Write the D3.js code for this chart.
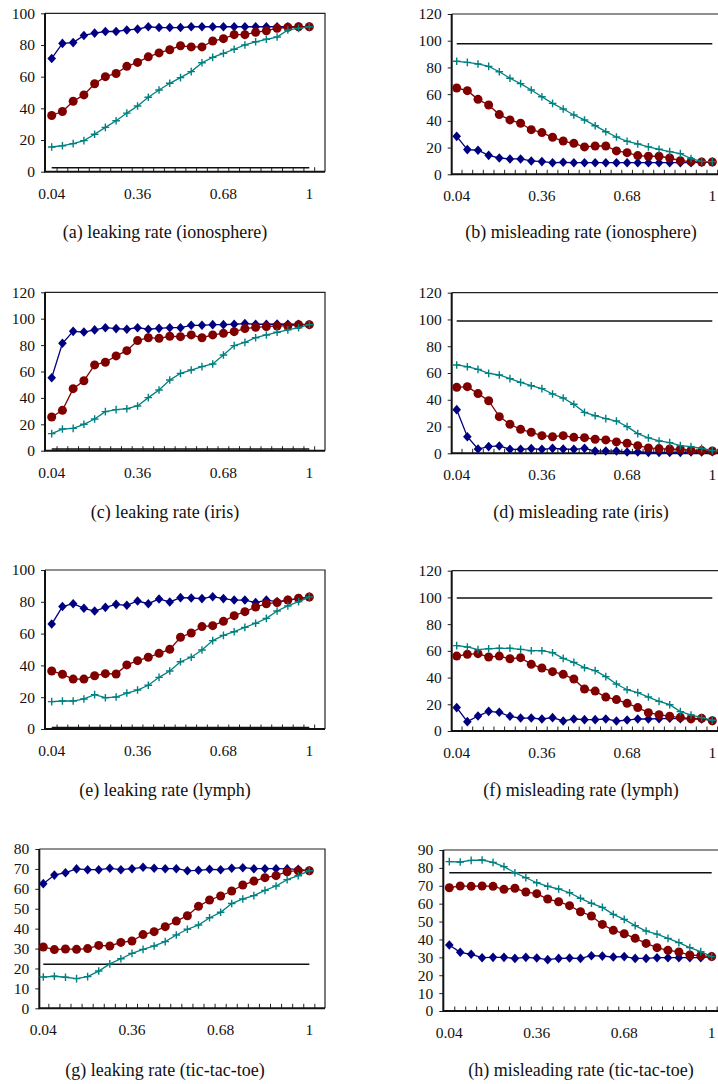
<!DOCTYPE html>
<html>
<head>
<meta charset="utf-8">
<script src="https://cdn.jsdelivr.net/npm/d3@7"></script>
<style>
  html, body { margin: 0; padding: 0; background: #fff; }
  svg { display: block; }
  text { font-family: "Liberation Serif", "Times New Roman", serif; fill: #111; }
</style>
</head>
<body>
<svg id="chart" width="718" height="1084"></svg>
<script>
// Sampling rates on the horizontal axis (25 categories)
const rates = [0.04, 0.08, 0.12, 0.16, 0.20, 0.24, 0.28, 0.32, 0.36, 0.40, 0.44, 0.48,
               0.52, 0.56, 0.60, 0.64, 0.68, 0.72, 0.76, 0.80, 0.84, 0.88, 0.92, 0.96, 1.00];
const xTickLabels = [0.04, 0.36, 0.68, 1];

// (a) leaking rate (ionosphere)
const aBlue  = [71.5, 81, 81.5, 86, 87.5, 88.5, 88.5, 89.5, 90, 91.5, 91, 91, 91, 91.5, 91.5, 91.5, 91.5, 91.5, 91.5, 91.5, 91.5, 91.5, 91.5, 91.5, 91.5];
const aRed   = [35.5, 38, 44.5, 48.5, 55.5, 60, 62, 66.5, 69, 72.5, 75, 77, 79.5, 78.8, 78.8, 82.5, 84, 86.5, 86.5, 88, 89, 90.5, 91.2, 91.5, 91.5];
const aTeal  = [15.6, 16.4, 17.7, 19.6, 23.6, 28, 32.2, 37, 41.5, 47, 51.6, 55.8, 59.4, 63.2, 68.8, 72.2, 74.7, 77.3, 80, 82, 83.6, 85, 89.5, 90.5, 91.5];
const aLine  = 2.5;

// (b) misleading rate (ionosphere)
const bBlue  = [28.4, 18.5, 18, 14.2, 12.2, 11.5, 11.5, 10, 9.5, 8.7, 9, 8.7, 8.7, 8.7, 8.7, 8.7, 8.7, 8.7, 8.7, 8.7, 8.7, 8.7, 8.7, 9, 9.2];
const bRed   = [64.6, 62.6, 56.1, 51.9, 44.7, 40.7, 38.2, 33.4, 31.2, 27.7, 24.9, 23.2, 20.5, 21.2, 21.2, 17.5, 16.2, 14, 13.5, 13.5, 12.2, 10.2, 9.5, 9.2, 9.2];
const bTeal  = [84.6, 83.8, 82.6, 80.8, 76.8, 71.9, 67.9, 63.1, 58.1, 53.1, 48.9, 44.4, 40.7, 36.4, 31.9, 27.9, 24.7, 22.7, 20.5, 18.7, 17, 15.5, 11.7, 9.7, 9.5];
const bLine  = 97.8;

// (c) leaking rate (iris)
const cBlue  = [55.3, 81.4, 90.4, 89.9, 91.5, 93.2, 92.5, 92, 93.2, 92, 92.7, 93.2, 93.2, 95, 95, 95.5, 95.5, 95.8, 96.3, 95.8, 95.8, 96, 95.8, 95.8, 95.5];
const cRed   = [25.5, 30.6, 47, 53, 65, 67, 71.8, 75.8, 83.4, 85.6, 85.1, 86.7, 86.4, 87.7, 85.6, 87.7, 88.9, 90.2, 92.5, 93.5, 94, 94.5, 94.5, 95.5, 95.5];
const cTeal  = [12.9, 16.4, 16.9, 20, 24, 29.6, 31.1, 31.8, 33.9, 40.2, 46, 53.6, 58.6, 61.1, 63.7, 65.7, 72.5, 79.6, 82.1, 85.6, 87.7, 89.7, 91.5, 93.2, 95.5];
const cLine  = 1.2;

// (d) misleading rate (iris)
const dBlue  = [32.6, 12.4, 3.2, 5, 5.5, 3, 3, 3.5, 3, 3.7, 3.2, 3, 3.7, 1.7, 1.7, 1.7, 1, 1, 0.7, 0.7, 0.7, 0.7, 1, 1, 1.2];
const dRed   = [49.3, 49.8, 44.6, 39.3, 27.4, 21.7, 17.9, 15.7, 13.2, 12.4, 13.2, 11.9, 11.7, 10.5, 10, 8.5, 7.5, 5.7, 4, 3.5, 3.2, 3, 2.2, 2, 1.7];
const dTeal  = [66, 64.7, 62.7, 59.7, 58.5, 55.8, 53, 50.5, 48.3, 44.3, 41.3, 36.6, 30.6, 28.1, 25.9, 24.1, 19.9, 14.7, 11.5, 9.2, 8, 5.7, 5, 3.7, 2];
const dLine  = 98.8;

// (e) leaking rate (lymph)
const eBlue  = [66, 77, 78.8, 75.9, 74.2, 76.5, 78.4, 77.8, 80.5, 78.8, 81.8, 79.9, 82.6, 82.4, 82, 83.2, 82, 81.1, 81.1, 79.5, 81.1, 80.1, 81.1, 82, 83];
const eRed   = [36.5, 34.4, 31.4, 31.4, 33.5, 34.8, 34.6, 40.3, 43, 45.1, 47.6, 50.1, 57.7, 60.4, 64.4, 65, 67.7, 71.3, 73.8, 76.7, 78.8, 79.5, 81.1, 82.2, 83];
const eTeal  = [17.2, 17.6, 17.6, 18.9, 21.6, 19.7, 20.1, 22.6, 24.5, 27.5, 32.5, 36.5, 42.3, 45.1, 49.7, 55.6, 58.9, 61.2, 63.9, 66.5, 69.6, 74.2, 77.4, 80.1, 83];
const eLine  = 1.0;

// (f) misleading rate (lymph)
const fBlue  = [17.5, 7, 11.2, 14.7, 14, 11, 9.7, 9.7, 9, 10, 7.5, 9, 8.5, 8.5, 9, 7.5, 8.2, 9, 9, 9.2, 9.5, 9.2, 9, 9, 7.7];
const fRed   = [56.1, 57.4, 57.9, 55.4, 56.1, 54.1, 54.9, 49.9, 47.2, 44.4, 42.4, 38.9, 31.4, 29.9, 25.4, 23.5, 20.7, 17.5, 13.7, 12.2, 11, 10.2, 9.2, 9.5, 7.7];
const fTeal  = [63.9, 62.9, 60.9, 61.6, 61.9, 61.9, 61.1, 60.1, 60.1, 58.6, 54.4, 51.4, 47.4, 45.2, 40.7, 35.2, 30.9, 28.7, 25.4, 22.2, 19.7, 14.5, 12, 10, 8];
const fLine  = 99.5;

// (g) leaking rate (tic-tac-toe)
const gBlue  = [62.6, 66.9, 68.1, 70, 69.6, 69.6, 70.3, 69.6, 70.1, 70.8, 70.3, 70.1, 70.1, 69.1, 69.3, 69.8, 69.6, 70.3, 70.6, 70.1, 70.1, 70.1, 70, 69.8, 69.1];
const gRed   = [30.8, 29.5, 29.8, 29.6, 30, 31.6, 31.3, 33.1, 33.8, 37, 38.5, 41, 43.8, 46.5, 51.2, 54.4, 56.4, 58.9, 61.9, 63.9, 65.6, 66.6, 68.6, 69.1, 69.1];
const gTeal  = [15.7, 16.1, 15.6, 14.9, 15.9, 18.7, 22.3, 24.9, 27.6, 29.6, 31.3, 33.5, 36.8, 39.7, 41.8, 45.5, 48.2, 52.6, 54.9, 56.6, 59.2, 61.4, 64.6, 66.6, 69.1];
const gLine  = 22.1;

// (h) misleading rate (tic-tac-toe)
const hBlue  = [36.9, 32.8, 31.7, 29.8, 30, 30, 29.4, 30, 29.6, 28.7, 29.4, 29.6, 29.4, 30.9, 30.7, 30.2, 30.4, 29.4, 29.4, 29.8, 29.8, 29.8, 29.8, 29.8, 30.4];
const hRed   = [68.9, 69.9, 69.7, 69.9, 69.7, 68, 68.6, 66.5, 65.6, 62.6, 61.1, 58.9, 55.5, 53.1, 48.4, 45.1, 43.2, 40.6, 37.8, 35.4, 33.9, 33, 31.3, 30.9, 30.4];
const hTeal  = [83.5, 83.3, 84.2, 84.4, 83.1, 80.7, 77.3, 74.5, 71.7, 69.7, 68.2, 66.1, 63, 60.2, 57.9, 54, 51.2, 47.7, 44.7, 43, 40.6, 38.2, 35.4, 33.2, 30.4];
const hLine  = 77.3;

const captions = [
  "(a) leaking rate (ionosphere)", "(b) misleading rate (ionosphere)",
  "(c) leaking rate (iris)",       "(d) misleading rate (iris)",
  "(e) leaking rate (lymph)",      "(f) misleading rate (lymph)",
  "(g) leaking rate (tic-tac-toe)","(h) misleading rate (tic-tac-toe)"
];

const yMaxes  = [100, 120, 120, 120, 100, 120, 80, 90];
const ySteps  = [20, 20, 20, 20, 20, 20, 10, 10];

const panelData = [
  [aBlue, aRed, aTeal, aLine], [bBlue, bRed, bTeal, bLine],
  [cBlue, cRed, cTeal, cLine], [dBlue, dRed, dTeal, dLine],
  [eBlue, eRed, eTeal, eLine], [fBlue, fRed, fTeal, fLine],
  [gBlue, gRed, gTeal, gLine], [hBlue, hRed, hTeal, hLine]
];

// Panel frames: plot box (left, top, bottom, right), first/last category position, caption baseline
const frames = [
  {l: 45,    t: 13.3,  b: 171.7,  r: 325, x0: 51.7,  x1: 309.3, cap: 238,  cx: 165},
  {l: 451.7, t: 14,    b: 174.3,  r: 730, x0: 456.7, x1: 712.3, cap: 238,  cx: 581},
  {l: 45,    t: 292.3, b: 450.7,  r: 325, x0: 51.7,  x1: 309.3, cap: 518,  cx: 165},
  {l: 451.7, t: 292.7, b: 453.3,  r: 730, x0: 456.7, x1: 712.3, cap: 518,  cx: 581},
  {l: 45,    t: 570,   b: 729,    r: 325, x0: 51.7,  x1: 309.3, cap: 796,  cx: 165},
  {l: 451.7, t: 570.7, b: 731,    r: 730, x0: 456.7, x1: 712.3, cap: 796,  cx: 581},
  {l: 39.3,  t: 849,   b: 1008.3, r: 325, x0: 43.3,  x1: 309.3, cap: 1076, cx: 165},
  {l: 443.3, t: 850,   b: 1011,   r: 730, x0: 449.3, x1: 711.7, cap: 1076, cx: 581}
];

const colors = {blue: "#000080", red: "#800000", teal: "#008080"};
const diamondPath = "M0,-4.8L4.3,0L0,4.8L-4.3,0Z";
const plusPath = "M-3.8,0H3.8M0,-3.8V3.8";
const svg = d3.select("#chart");

frames.forEach((f, p) => {
  const [blue, red, teal, refLine] = panelData[p];
  const g = svg.append("g");

  const x = d3.scalePoint().domain(rates).range([f.x0, f.x1]);
  const step = x.step();
  const y = d3.scaleLinear().domain([0, yMaxes[p]]).range([f.b, f.t]);

  // top and right frame of the plot box
  g.append("path")
    .attr("d", `M${f.l},${f.t}H${f.r}V${f.b}`)
    .attr("fill", "none").attr("stroke", "#222").attr("stroke-width", 1.2);

  // y axis
  const yAxis = d3.axisLeft(y)
    .tickValues(d3.range(0, yMaxes[p] + 0.001, ySteps[p]))
    .tickFormat(d3.format("d"))
    .tickSize(4).tickPadding(6);
  const ya = g.append("g").attr("transform", `translate(${f.l},0)`).call(yAxis);
  ya.select(".domain").remove();
  ya.selectAll(".tick line").attr("stroke", "#222").attr("stroke-width", 1);
  ya.selectAll(".tick text")
    .style("font-family", '"Liberation Serif", "Times New Roman", serif')
    .style("font-size", "15.5px").attr("fill", "#111");

  // category boundary ticks pointing into the plot
  const boundaries = d3.range(0, rates.length).map(i => x(rates[i]) + step / 2);
  g.selectAll("line.xb").data(boundaries).join("line")
    .attr("x1", d => d).attr("x2", d => d)
    .attr("y1", f.b).attr("y2", f.b - 4.5)
    .attr("stroke", "#222").attr("stroke-width", 1);

  // x tick labels
  g.selectAll("text.xl").data(xTickLabels).join("text")
    .attr("x", d => x(rates.find(r => Math.abs(r - d) < 1e-9)))
    .attr("y", f.b + 27)
    .attr("text-anchor", "middle")
    .style("font-size", "15.5px")
    .text(d => d3.format("")(d));

  // left and bottom axis lines
  g.append("path")
    .attr("d", `M${f.l},${f.t}V${f.b}H${f.r}`)
    .attr("fill", "none").attr("stroke", "#111").attr("stroke-width", 2);

  // reference line
  g.append("line")
    .attr("x1", x(rates[0])).attr("x2", x(rates[rates.length - 1]))
    .attr("y1", y(refLine)).attr("y2", y(refLine))
    .attr("stroke", "#111").attr("stroke-width", 1.5);

  const line = d3.line().x((d, i) => x(rates[i])).y(d => y(d));

  // blue diamonds
  g.append("path").datum(blue).attr("d", line)
    .attr("fill", "none").attr("stroke", colors.blue).attr("stroke-width", 1.3);
  g.selectAll("path.dia").data(blue).join("path")
    .attr("d", diamondPath)
    .attr("transform", (d, i) => `translate(${x(rates[i])},${y(d)})`)
    .attr("fill", colors.blue);

  // red circles
  g.append("path").datum(red).attr("d", line)
    .attr("fill", "none").attr("stroke", colors.red).attr("stroke-width", 1.3);
  g.selectAll("circle.c").data(red).join("circle")
    .attr("cx", (d, i) => x(rates[i])).attr("cy", d => y(d))
    .attr("r", 4.5).attr("fill", colors.red);

  // teal plus marks
  g.append("path").datum(teal).attr("d", line)
    .attr("fill", "none").attr("stroke", colors.teal).attr("stroke-width", 1.3);
  g.selectAll("path.plus").data(teal).join("path")
    .attr("d", plusPath)
    .attr("transform", (d, i) => `translate(${x(rates[i])},${y(d)})`)
    .attr("stroke", colors.teal).attr("stroke-width", 1.4).attr("fill", "none");

  // caption
  svg.append("text")
    .attr("x", f.cx).attr("y", f.cap)
    .attr("text-anchor", "middle")
    .style("font-size", "18px")
    .text(captions[p]);
});
</script>
</body>
</html>
